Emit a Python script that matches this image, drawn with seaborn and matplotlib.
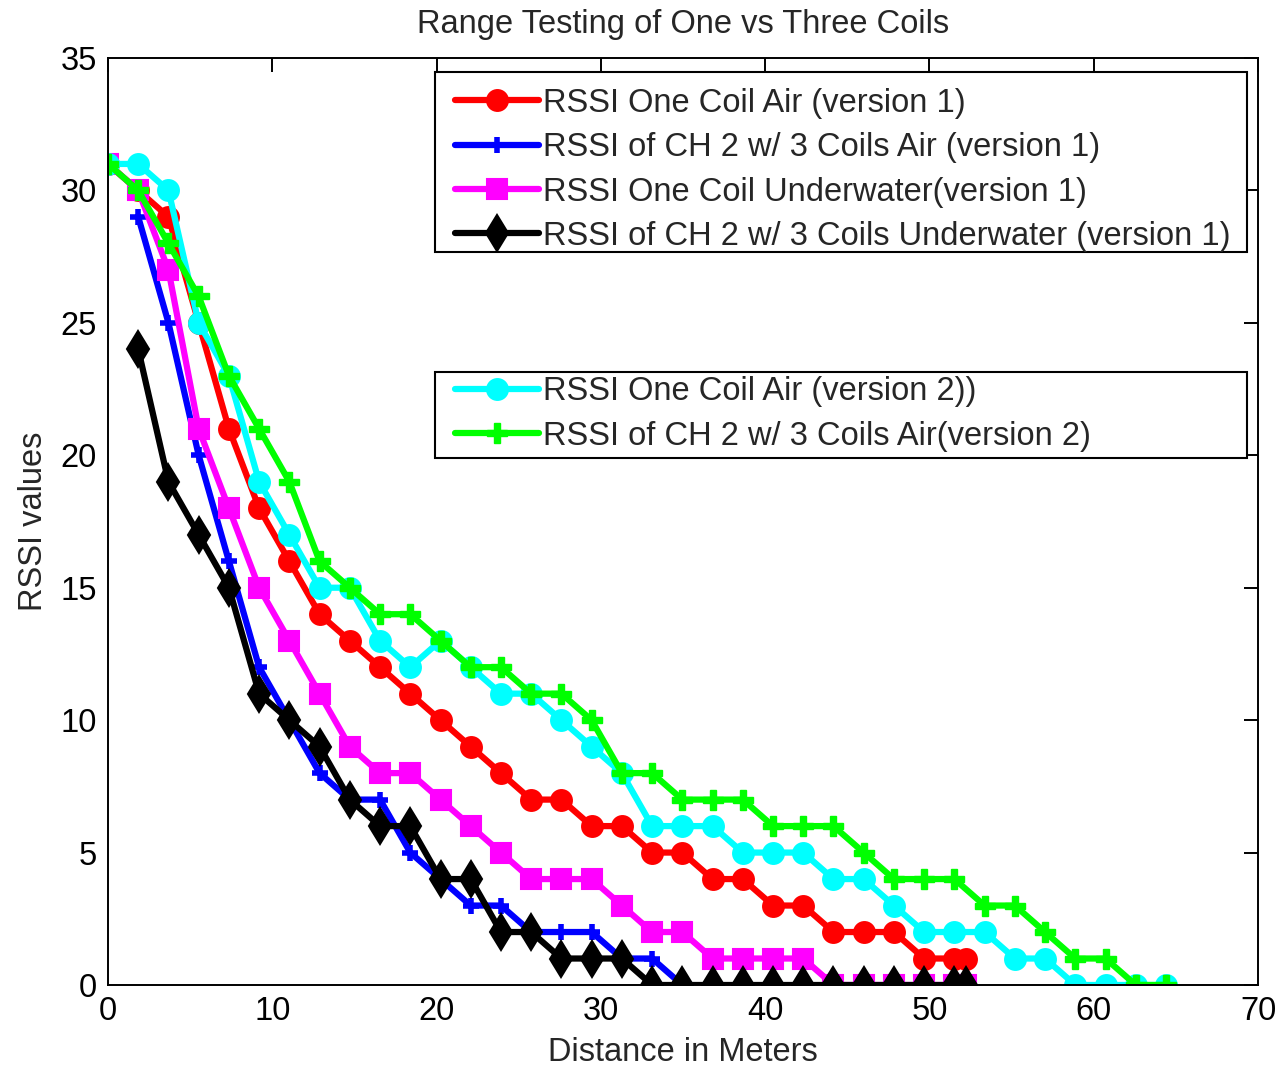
import matplotlib
matplotlib.use("Agg")
import matplotlib.pyplot as plt
from matplotlib.patches import Rectangle
import seaborn as sns

# ---------------- data ----------------
dist_v1 = [0, 1.84, 3.68, 5.52, 7.36, 9.2, 11.04, 12.88, 14.72, 16.56,
           18.4, 20.24, 22.08, 23.92, 25.76, 27.6, 29.44, 31.28, 33.12, 34.96,
           36.8, 38.64, 40.48, 42.32, 44.16, 46.0, 47.84, 49.68, 51.52, 52.2]
dist_v2 = [0, 1.84, 3.68, 5.52, 7.36, 9.2, 11.04, 12.88, 14.72, 16.56,
           18.4, 20.24, 22.08, 23.92, 25.76, 27.6, 29.44, 31.28, 33.12, 34.96,
           36.8, 38.64, 40.48, 42.32, 44.16, 46.0, 47.84, 49.68, 51.52, 53.36,
           55.2, 57.04, 58.88, 60.72, 62.56, 64.4]

one_coil_air_v1 = [31, 30, 29, 25, 21, 18, 16, 14, 13, 12,
                   11, 10, 9, 8, 7, 7, 6, 6, 5, 5,
                   4, 4, 3, 3, 2, 2, 2, 1, 1, 1]
three_coils_air_v1 = [29, 25, 20, 16, 12, 10, 8, 7, 7, 5,
                      4, 3, 3, 2, 2, 2, 1, 1, 0]
one_coil_uw_v1 = [31, 30, 27, 21, 18, 15, 13, 11, 9, 8,
                  8, 7, 6, 5, 4, 4, 4, 3, 2, 2,
                  1, 1, 1, 1, 0, 0, 0, 0, 0, 0]
three_coils_uw_v1 = [24, 19, 17, 15, 11, 10, 9, 7, 6, 6,
                     4, 4, 2, 2, 1, 1, 1, 0, 0, 0,
                     0, 0, 0, 0, 0, 0, 0, 0, 0]
one_coil_air_v2 = [31, 31, 30, 25, 23, 19, 17, 15, 15, 13,
                   12, 13, 12, 11, 11, 10, 9, 8, 6, 6,
                   6, 5, 5, 5, 4, 4, 3, 2, 2, 2,
                   1, 1, 0, 0, 0, 0]
three_coils_air_v2 = [31, 30, 28, 26, 23, 21, 19, 16, 15, 14,
                      14, 13, 12, 12, 11, 11, 10, 8, 8, 7,
                      7, 7, 6, 6, 6, 5, 4, 4, 4, 3,
                      3, 2, 1, 1, 0, 0]

labels_v1 = ["RSSI One Coil Air (version 1)",
             "RSSI of CH 2 w/ 3 Coils Air (version 1)",
             "RSSI One Coil Underwater(version 1)",
             "RSSI of CH 2 w/ 3 Coils Underwater (version 1)"]
labels_v2 = ["RSSI One Coil Air (version 2))",
             "RSSI of CH 2 w/ 3 Coils Air(version 2)"]

x_ticks = [0, 10, 20, 30, 40, 50, 60, 70]
y_ticks = [0, 5, 10, 15, 20, 25, 30, 35]

# ---------------- style ----------------
sns.set_style("white")
FS = 23.5
plt.rcParams.update({
    "font.family": ["Liberation Sans", "DejaVu Sans"],
    "font.size": FS,
    "xtick.direction": "in", "ytick.direction": "in",
    "xtick.top": True, "ytick.right": True,
    "xtick.major.size": 10, "ytick.major.size": 10,
    "xtick.major.width": 1.4, "ytick.major.width": 1.4,
    "axes.linewidth": 1.4, "axes.edgecolor": "black",
    "xtick.color": "black", "ytick.color": "black",
})

fig = plt.figure(figsize=(12.81, 10.68), dpi=100)
ax = fig.add_axes([108 / 1281, 1 - 985 / 1068, 1150 / 1281, 927 / 1068])

LW = 4.5
series = [
    (dist_v1, one_coil_air_v1, "#FF0000", "o", 15, 1.5, labels_v1[0]),
    (dist_v1[1:20], three_coils_air_v1, "#0000FF", "+", 12, 4.0, labels_v1[1]),
    (dist_v1, one_coil_uw_v1, "#FF00FF", "s", 14, 1.5, labels_v1[2]),
    (dist_v1[1:], three_coils_uw_v1, "#000000", "d", 18, 1.5, labels_v1[3]),
    (dist_v2, one_coil_air_v2, "#00FFFF", "o", 15, 1.5, labels_v2[0]),
    (dist_v2, three_coils_air_v2, "#00FF00", "P", 14, 1.0, labels_v2[1]),
]

handles = []
for xs, ys, col, mk, ms, mew, lab in series:
    sns.lineplot(x=xs, y=ys, ax=ax, color=col, marker=mk, markersize=ms,
                 markeredgewidth=mew, markeredgecolor=col, markerfacecolor=col,
                 linewidth=LW, estimator=None, sort=False, label=lab,
                 legend=False)
    handles.append(ax.lines[-1])

ax.set_xlim(0, 70)
ax.set_ylim(0, 35)
ax.set_xticks(x_ticks)
ax.set_yticks(y_ticks)
ax.tick_params(axis="both", labelsize=FS, pad=8)
for s in ax.spines.values():
    s.set_visible(True)
    s.set_color("black")

ax.set_title("Range Testing of One vs Three Coils", fontsize=FS, pad=18)
ax.set_xlabel("Distance in Meters", fontsize=FS, labelpad=7)
ax.set_ylabel("RSSI values", fontsize=FS, labelpad=8)

# legend boxes (drawn as frames) and their contents
leg_kw = dict(loc="upper left", mode="expand", borderaxespad=0,
              fontsize=FS, handlelength=2.6, handletextpad=0.12,
              labelspacing=0.41, borderpad=0.42, frameon=False)

frame1 = Rectangle((0.2843, 0.7907), 0.7061, 0.1942, transform=ax.transAxes,
                   facecolor="white", edgecolor="black", linewidth=1.5,
                   zorder=4.5)
ax.add_patch(frame1)
leg1 = ax.legend(handles=handles[:4], labels=labels_v1,
                 bbox_to_anchor=(0.2895, 0.7907, 0.70, 0.192), **leg_kw)
leg1.set_zorder(5)
ax.add_artist(leg1)

frame2 = Rectangle((0.2843, 0.5685), 0.7061, 0.0928, transform=ax.transAxes,
                   facecolor="white", edgecolor="black", linewidth=1.5,
                   zorder=4.5)
ax.add_patch(frame2)
leg2 = ax.legend(handles=handles[4:], labels=labels_v2,
                 bbox_to_anchor=(0.2895, 0.5685, 0.70, 0.1028), **leg_kw)
leg2.set_zorder(5)

fig.savefig("out.png", dpi=100)
